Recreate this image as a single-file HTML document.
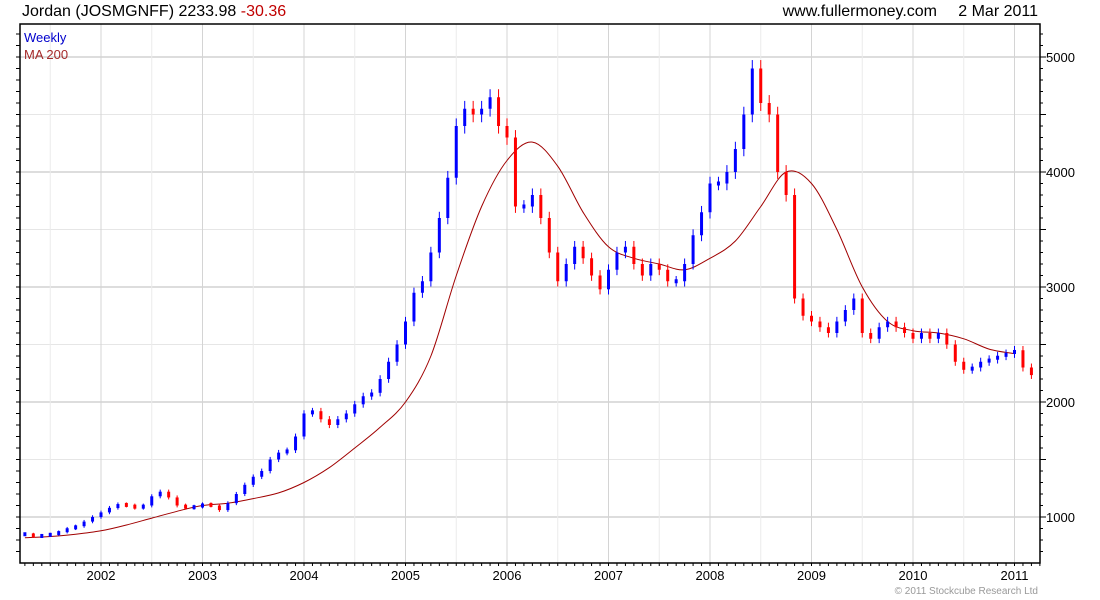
<!DOCTYPE html>
<html><head><meta charset="utf-8"><style>
body{margin:0;background:#fff;font-family:"Liberation Sans",sans-serif}
svg{display:block}
</style></head><body>
<svg width="1100" height="600" xmlns="http://www.w3.org/2000/svg">
<g id="grid"></g>
<g id="ma"></g>
<g id="bars"></g>
<rect x="20" y="24" width="1020" height="539" fill="none" stroke="#000" stroke-width="1.5"/>
<g id="axes"></g>
<text x="22" y="16" font-size="16" fill="#000">Jordan (JOSMGNFF) 2233.98 <tspan fill="#c00000">-30.36</tspan></text>
<text x="937" y="16" font-size="16" text-anchor="end" fill="#000">www.fullermoney.com</text>
<text x="1038" y="16" font-size="16" text-anchor="end" fill="#000">2 Mar 2011</text>
<text x="24" y="42" font-size="13" fill="#0000cc">Weekly</text>
<text x="24" y="59" font-size="13" fill="#a52a2a">MA 200</text>
<text x="1038" y="594" font-size="10" text-anchor="end" fill="#999">© 2011 Stockcube Research Ltd</text>
</svg>
<script>
const closes=[850,830,840,850,870,900,920,960,1000,
1040,1080,1110,1100,1080,1100,1180,1220,1170,1100,1080,1090,
1110,1100,1060,1120,1200,1280,1350,1400,1500,1560,1580,1700,
1900,1920,1850,1800,1850,1900,1980,2050,2080,2200,2350,2500,
2700,2950,3050,3300,3600,3950,4400,4550,4500,4550,4650,4400,
4300,3700,3700,3800,3600,3300,3050,3200,3350,3250,3100,2980,
3150,3300,3350,3200,3100,3200,3150,3050,3050,3200,3450,3650,
3900,3900,4000,4200,4500,4900,4600,4500,4000,3800,2900,2750,
2700,2650,2600,2700,2800,2900,2600,2550,2650,2700,2650,2600,
2550,2600,2550,2600,2500,2350,2280,2300,2350,2370,2400,2420,
2450,2300,2234];
const barStart=2001.25;
const maValues=[820,830,850,880,930,990,1050,1100,1120,1160,1210,1300,1430,1600,1780,2000,2400,3100,3700,4100,4260,4050,3650,3350,3250,3200,3150,3250,3400,3700,4000,3900,3500,3000,2700,2620,2600,2550,2460,2420];
const maStart=2001.25;
const yTicks=[1000,2000,3000,4000,5000];
const xYears=[2002,2003,2004,2005,2006,2007,2008,2009,2010,2011];
const NS="http://www.w3.org/2000/svg";
const X=t=>710+(t-2008)*101.5;
const Y=v=>517-(v-1000)*0.115;
function mk(tag,attrs,parent){const e=document.createElementNS(NS,tag);for(const k in attrs)e.setAttribute(k,attrs[k]);parent.appendChild(e);return e;}
const grid=document.getElementById('grid'),axes=document.getElementById('axes');
for(let v=700;v<=5200;v+=100){
  const y=Y(v); if(y<24||y>563)continue;
  if(v%1000===0){const l=mk('line',{x1:20,x2:1040,y1:y,y2:y,stroke:'#bbb'},grid);
    }
  else if(v%500===0){const l=mk('line',{x1:20,x2:1040,y1:y,y2:y,stroke:'#e6e6e6'},grid);
    }
  const tk=mk('line',{x1:1040,x2:v%500===0?1046:1043,y1:y,y2:y,stroke:'#000'},axes);
  
  const tl=mk('line',{x1:20,x2:16,y1:y,y2:y,stroke:'#000'},axes);
  
}
yTicks.forEach(v=>{const t=mk('text',{x:1046,y:Y(v)+5,'font-size':13,fill:'#000'},axes);t.textContent=v;
  });
for(let t=2001.5;t<2011.3;t+=0.5){const x=X(t);
  const full=Math.abs(t-Math.round(t))<0.01;
  const l=mk('line',{x1:x,x2:x,y1:24,y2:563,stroke:full?'#d4d4d4':'#ececec'},grid);
  }
for(let m=2001.25;m<2011.25;m+=1/12){const x=X(m);
  const tk=mk('line',{x1:x,x2:x,y1:563,y2:566,stroke:'#000'},axes);
  }
xYears.forEach(yr=>{const t=mk('text',{x:X(yr),y:580,'font-size':13,'text-anchor':'middle',fill:'#000'},axes);t.textContent=yr;
  });
const ma=document.getElementById('ma');
const P=maValues.map((v,i)=>[X(maStart+i*0.25),Y(v)]);
let d='M'+P[0][0].toFixed(1)+','+P[0][1].toFixed(1);
for(let i=0;i<P.length-1;i++){
  const p0=P[Math.max(0,i-1)],p1=P[i],p2=P[i+1],p3=P[Math.min(P.length-1,i+2)];
  const c1=[p1[0]+(p2[0]-p0[0])/6,p1[1]+(p2[1]-p0[1])/6];
  const c2=[p2[0]-(p3[0]-p1[0])/6,p2[1]-(p3[1]-p1[1])/6];
  d+=' C'+c1[0].toFixed(1)+','+c1[1].toFixed(1)+' '+c2[0].toFixed(1)+','+c2[1].toFixed(1)+' '+p2[0].toFixed(1)+','+p2[1].toFixed(1);
}
const pl=mk('path',{d:d,fill:'none',stroke:'#a00000','stroke-width':1},ma);

const bars=document.getElementById('bars');
closes.forEach((c,i)=>{
  const o=i>0?closes[i-1]:c;
  const x=X(barStart+i/12);
  const col=c>=o?'#0000ff':'#ff0000';
  let y1=Y(Math.max(o,c)),y2=Y(Math.min(o,c));
  if(y2-y1<4){const m=(y1+y2)/2;y1=m-2;y2=m+2;}
  const w=mk('line',{x1:x,x2:x,y1:Y(Math.max(o,c)*1.015),y2:Y(Math.min(o,c)*0.985),stroke:col,'stroke-width':1},bars);
  
  const r=mk('rect',{x:x-1.5,y:y1,width:3,height:y2-y1,fill:col},bars);
  
});
</script>
</body></html>
